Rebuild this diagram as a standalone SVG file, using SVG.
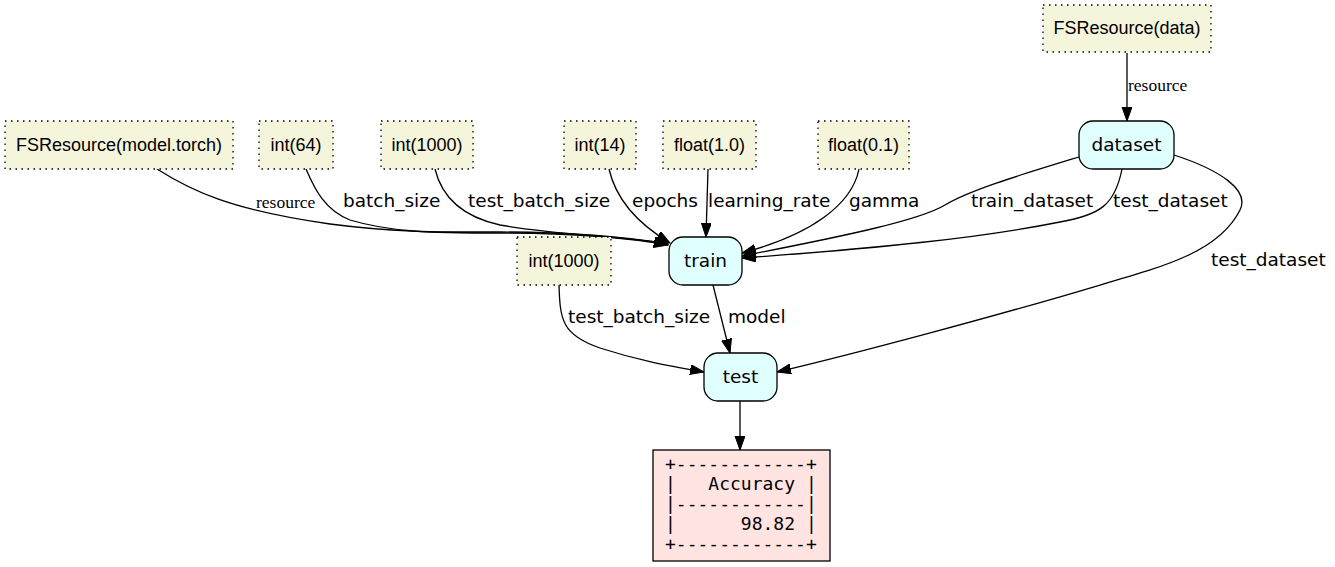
<svg xmlns="http://www.w3.org/2000/svg" width="1335" height="567" viewBox="0 0 1335 567">
<style>
.const rect{fill:#f5f5dc;stroke:#000;stroke-width:1.3;stroke-dasharray:1.5,4.5}
.const text{font-family:"Liberation Sans",Arial,sans-serif;font-size:18px;text-anchor:middle;fill:#000}
.func rect{fill:#e0ffff;stroke:#000;stroke-width:1.3}
.func text{font-family:"DejaVu Sans",sans-serif;font-size:18.5px;text-anchor:middle;fill:#000}
.res rect{fill:#ffe4e1;stroke:#000;stroke-width:1.3}
.res text{font-family:"DejaVu Sans Mono",monospace;font-size:18px;fill:#000;white-space:pre}
.edges path{fill:none;stroke:#000;stroke-width:1.3}
.lbl{font-family:"DejaVu Sans",sans-serif;font-size:18.5px;fill:#000}
.slbl{font-family:"Liberation Serif","Times New Roman",serif;font-size:17.5px;fill:#000}
</style>
<defs>
<marker id="arr" markerUnits="userSpaceOnUse" markerWidth="15" markerHeight="11" refX="14" refY="5" orient="auto">
<path d="M0,0 L14,5 L0,10 z" fill="#000" stroke="#000" stroke-width="1"/>
</marker>
</defs>
<rect width="1335" height="567" fill="#fff"/>

<g class="edges">
<path d="M1127,53 L1127,121" marker-end="url(#arr)"/>
<path d="M157,169 C190,190 230,210 330,224 C400,233 440,232 500,232 C560,232 620,236 668,244" marker-end="url(#arr)"/>
<path d="M306,169 C315,190 325,210 350,220 C390,232 430,233 500,233 C580,233 630,238 668,245" marker-end="url(#arr)"/>
<path d="M435,169 C440,190 455,215 500,225 C560,236 620,235 668,244" marker-end="url(#arr)"/>
<path d="M609,169 C616,200 640,225 670,243" marker-end="url(#arr)"/>
<path d="M708,169 L706,237" marker-end="url(#arr)"/>
<path d="M859,169 C852,205 810,235 742,253" marker-end="url(#arr)"/>
<path d="M1079,157 C1020,175 970,190 945,205 C920,220 850,235 742,256" marker-end="url(#arr)"/>
<path d="M1122,169 C1115,205 1100,215 1060,222 C980,238 880,248 742,258" marker-end="url(#arr)"/>
<path d="M1174,155 C1220,170 1250,190 1240,210 C1220,250 1170,265 1100,285 C1000,315 850,355 777,372" marker-end="url(#arr)"/>
<path d="M713,285 L730,353" marker-end="url(#arr)"/>
<path d="M559,285 C560,320 562,335 600,348 C640,361 670,366 704,372" marker-end="url(#arr)"/>
<path d="M740,401 L740,450" marker-end="url(#arr)"/>
<text class="slbl" x="1128" y="91">resource</text>
<text class="slbl" x="256" y="208">resource</text>
<text class="lbl" x="343" y="207">batch_size</text>
<text class="lbl" x="468" y="207">test_batch_size</text>
<text class="lbl" x="632" y="207">epochs</text>
<text class="lbl" x="708" y="207">learning_rate</text>
<text class="lbl" x="849" y="207">gamma</text>
<text class="lbl" x="971" y="207">train_dataset</text>
<text class="lbl" x="1113" y="207">test_dataset</text>
<text class="lbl" x="1211" y="266">test_dataset</text>
<text class="lbl" x="728" y="323">model</text>
<text class="lbl" x="568" y="323">test_batch_size</text>
</g>

<g id="fs_data" class="const"><rect x="1043" y="5" width="168" height="47"/><text x="1127" y="34">FSResource(data)</text></g>
<g id="fs_model" class="const"><rect x="5" y="121" width="228" height="48"/><text x="119" y="151">FSResource(model.torch)</text></g>
<g id="int64" class="const"><rect x="259" y="121" width="74" height="48"/><text x="296" y="151">int(64)</text></g>
<g id="int1000a" class="const"><rect x="381" y="121" width="92" height="48"/><text x="427" y="151">int(1000)</text></g>
<g id="int14" class="const"><rect x="564" y="121" width="72" height="48"/><text x="600" y="151">int(14)</text></g>
<g id="float10" class="const"><rect x="663" y="121" width="93" height="48"/><text x="709.5" y="151">float(1.0)</text></g>
<g id="float01" class="const"><rect x="818" y="121" width="91" height="48"/><text x="863.5" y="151">float(0.1)</text></g>
<g id="int1000b" class="const"><rect x="517" y="237" width="94" height="48"/><text x="564" y="267">int(1000)</text></g>

<g id="dataset" class="func"><rect x="1079" y="121" width="95" height="48" rx="14"/><text x="1126.5" y="151">dataset</text></g>
<g id="train" class="func"><rect x="669" y="237" width="73" height="48" rx="14"/><text x="705.5" y="267">train</text></g>
<g id="test" class="func"><rect x="704" y="353" width="73" height="48" rx="14"/><text x="740.5" y="383">test</text></g>

<g id="accuracy" class="res"><rect x="653" y="450" width="177" height="111"/>
<text x="665" y="470" xml:space="preserve">+------------+</text>
<text x="665" y="490" xml:space="preserve">|   Accuracy |</text>
<text x="665" y="510" xml:space="preserve">|------------|</text>
<text x="665" y="530" xml:space="preserve">|      98.82 |</text>
<text x="665" y="550" xml:space="preserve">+------------+</text>
</g>
</svg>
